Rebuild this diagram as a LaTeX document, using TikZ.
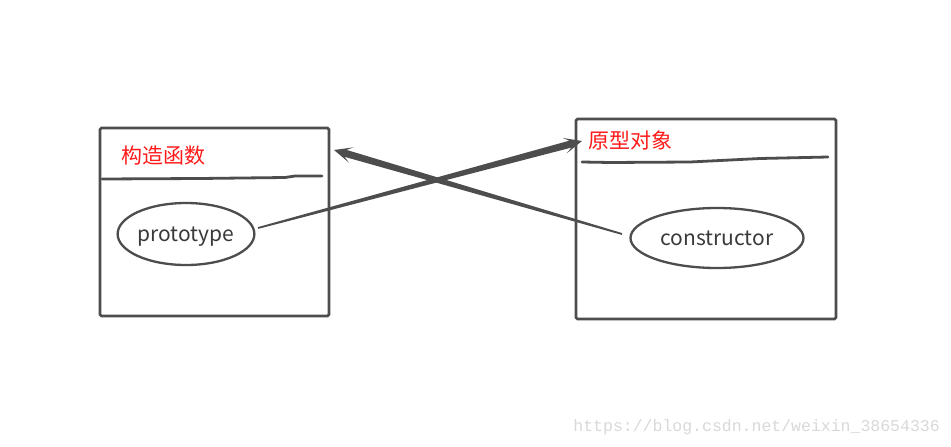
\documentclass[tikz,border=0pt]{standalone}
\usepackage{fontspec}
\setmainfont{Noto Sans CJK SC}
\newfontfamily\wmfont{Liberation Mono}
\usetikzlibrary{calc,shapes.geometric}
\definecolor{lc}{HTML}{4D4D4D}
\definecolor{tc}{HTML}{3A3A3A}
\definecolor{rc}{HTML}{FF1A1A}
\definecolor{wm}{HTML}{D9D9D9}
\tikzset{
  boxn/.style={draw=lc, line width=2.8pt, rounded corners=1.5pt, inner sep=0pt},
  elln/.style={ellipse, draw=lc, line width=2.3pt, inner sep=0pt, text=tc, font=\fontsize{21}{24}\selectfont, text height=18pt, text depth=4pt},
  titlen/.style={text=rc, font=\fontsize{21}{24}\selectfont, inner sep=0pt},
  sepl/.style={draw=lc, line width=2.8pt, line cap=round, line join=round},
}
\newcommand\taparrow[4]{%
  \coordinate (ha) at ($(#2)!12pt!(#1)$);
  \coordinate (hb) at ($(#2)!18pt!(#1)$);
  \fill[lc] ($(#1)!#3!90:(#2)$) -- ($(ha)!#4!90:(#2)$) -- ($(hb)!8pt!90:(#2)$) -- (#2)
    -- ($(hb)!8pt!-90:(#2)$) -- ($(ha)!#4!-90:(#2)$) -- ($(#1)!#3!-90:(#2)$) -- cycle;
}
\begin{document}
\begin{tikzpicture}[x=1pt,y=-1pt]
\useasboundingbox[fill=white] (0,0) rectangle (951,447);
% boxes
\node[boxn, minimum width=229pt, minimum height=188pt] (ctor) at (214.5,222) {};
\node[boxn, minimum width=260pt, minimum height=200pt] (proto obj) at (706,219) {};
% titles
\node[titlen] (ttl1) at (163.5,156) {构造函数};
\node[titlen] (ttl2) at (630,140) {原型对象};
% separators
\draw[sepl] (102,179) -- (200,178.5) -- (285,177.5) -- (295,176) -- (322,176);
\draw[sepl] (582,162) -- (610,162.5) -- (690,162) -- (760,158.5) -- (828,157);
% ellipses
\node[elln, minimum width=136pt, minimum height=62pt] (proto) at (186,234) {prototype};
\node[elln, minimum width=173pt, minimum height=60pt] (cons) at (717,238) {constructor};
% arrow end points
\coordinate (s1) at (258,228);
\coordinate (e1) at (582,141);
\coordinate (s2) at (622,234);
\coordinate (e2) at (334,150);
\taparrow{s1}{e1}{0.9pt}{3.6pt}
\taparrow{s2}{e2}{0.9pt}{3.6pt}
% watermark
\node[text=wm, font=\wmfont\fontsize{16.5}{18}\selectfont, anchor=east, inner sep=0pt] (wmk) at (940,427) {https://blog.csdn.net/weixin\_38654336};
\end{tikzpicture}
\end{document}
